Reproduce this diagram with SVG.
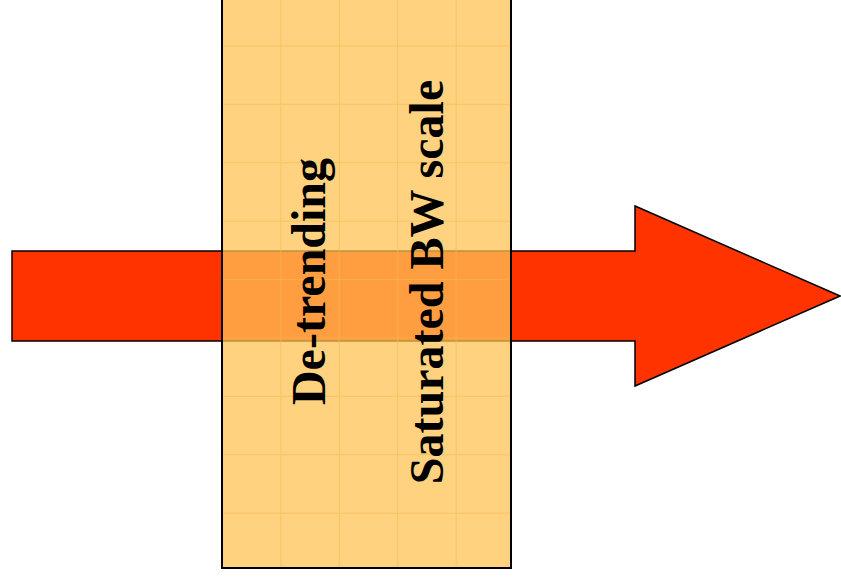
<svg xmlns="http://www.w3.org/2000/svg" width="841" height="585" viewBox="0 0 841 585">
  <style>
    .arrow { fill: #FF3300; stroke: #000; stroke-width: 1.5; stroke-linejoin: miter; }
    .panel { fill: #FFC355; fill-opacity: 0.75; stroke: #000; stroke-width: 2; }
    .grid { stroke: #F5B94A; stroke-width: 1; stroke-opacity: 0.6; fill: none; }
    .label { font-family: "Liberation Serif", "Times New Roman", serif; font-weight: bold; font-size: 48px; fill: #000; text-anchor: middle; }
  </style>
  <defs>
    <pattern id="panelGrid" x="222" y="-13" width="58.4" height="58.4" patternUnits="userSpaceOnUse">
      <path class="grid" d="M0.5 0 V58.4 M0 0.5 H58.4"/>
    </pattern>
  </defs>

  <!-- flow arrow, drawn behind the stage panel -->
  <g id="flow-arrow">
    <polygon class="arrow" points="12,251 635,251 635,206 840,296 635,386 635,341 12,341"/>
  </g>

  <!-- processing stage panel -->
  <g id="stage-panel">
    <rect class="panel" x="222" y="-5" width="289" height="573"/>
    <rect x="223" y="-5" width="287" height="572" fill="url(#panelGrid)"/>
    <rect x="222" y="-5" width="289" height="573" fill="none" stroke="#000" stroke-width="2"/>
  </g>

  <g id="label-detrending">
    <text class="label" transform="translate(325,281.5) rotate(-90)">De-trending</text>
  </g>
  <g id="label-saturated">
    <text class="label" transform="translate(443,282) rotate(-90)">Saturated BW scale</text>
  </g>
</svg>
